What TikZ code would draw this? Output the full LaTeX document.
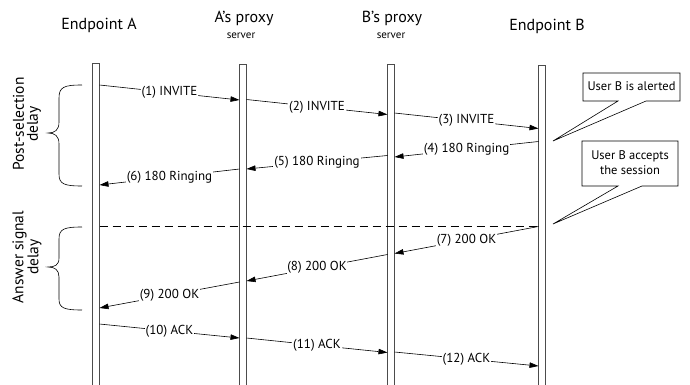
\documentclass[tikz,border=0pt]{standalone}
\usepackage{fontspec}
\setmainfont{PT Sans}
\usetikzlibrary{arrows.meta}
\begin{document}
\begin{tikzpicture}[x=1pt,y=-1pt,
  life/.style={draw=black!70, line width=0.7pt},
  msg/.style={draw=black, line width=0.6pt, -{Triangle[length=9pt,width=5.5pt]}},
  lbl/.style={fill=white, inner sep=0.8pt, font=\fontsize{13}{13}\selectfont},
  head/.style={font=\fontsize{16}{16}\selectfont, inner sep=0pt},
  subhead/.style={font=\fontsize{11}{11}\selectfont, inner sep=0pt},
  callout/.style={draw=black, line width=0.6pt, fill=white},
  calltext/.style={font=\fontsize{12.5}{15}\selectfont, align=center, inner sep=0pt},
  brace/.style={draw=black, line width=0.6pt},
  side/.style={font=\fontsize{15.5}{14}\selectfont, align=center, rotate=90, inner sep=0pt},
  sep/.style={draw=black, line width=0.6pt, dash pattern=on 8pt off 5pt}
]
\useasboundingbox (0,0) rectangle (690,385);

% headers
\node[head] (hA) at (99,25) {Endpoint A};
\node[head] (hAP) at (244,18) {A's proxy};
\node[subhead] (sAP) at (241,36) {server};
\node[head] (hBP) at (392,18) {B's proxy};
\node[subhead] (sBP) at (391,36) {server};
\node[head] (hB) at (547,26) {Endpoint B};

% lifelines
\draw[life] (92.5,63) rectangle (99.5,390);
\draw[life] (239.5,64) rectangle (246.5,390);
\draw[life] (387.5,64) rectangle (394.5,390);
\draw[life] (538.5,65) rectangle (545.5,390);

% message end points
\coordinate (m1s) at (99.5,85);   \coordinate (m1e) at (239.5,100);
\coordinate (m2s) at (246.5,99.5);\coordinate (m2e) at (387.5,114.5);
\coordinate (m3s) at (394.5,113); \coordinate (m3e) at (538.5,128.5);
\coordinate (m4s) at (538.5,141.5);\coordinate (m4e) at (394.5,157);
\coordinate (m5s) at (387.5,155.5);\coordinate (m5e) at (246.5,169);
\coordinate (m6s) at (239.5,169); \coordinate (m6e) at (99.5,185);
\coordinate (m7s) at (538.5,226.5);\coordinate (m7e) at (394.5,253.5);
\coordinate (m8s) at (387.5,254.5);\coordinate (m8e) at (246.5,281);
\coordinate (m9s) at (239.5,282); \coordinate (m9e) at (99.5,308);
\coordinate (m10s) at (99.5,324); \coordinate (m10e) at (239.5,338);
\coordinate (m11s) at (246.5,338);\coordinate (m11e) at (387.5,352.5);
\coordinate (m12s) at (394.5,352);\coordinate (m12e) at (538.5,366);

% dashed separator
\coordinate (dA) at (99.5,226);
\coordinate (dB) at (538.5,226);
\draw[sep] (dA) -- (dB);

% messages
\draw[msg] (m1s) -- node[lbl] {(1) INVITE} (m1e);
\draw[msg] (m2s) -- node[lbl] {(2) INVITE} (m2e);
\draw[msg] (m3s) -- node[lbl] {(3) INVITE} (m3e);
\draw[msg] (m4s) -- node[lbl] {(4) 180 Ringing} (m4e);
\draw[msg] (m5s) -- node[lbl] {(5) 180 Ringing} (m5e);
\draw[msg] (m6s) -- node[lbl] {(6) 180 Ringing} (m6e);
\draw[msg] (m7s) -- node[lbl] {(7) 200 OK} (m7e);
\draw[msg] (m8s) -- node[lbl] {(8) 200 OK} (m8e);
\draw[msg] (m9s) -- node[lbl] {(9) 200 OK} (m9e);
\draw[msg] (m10s) -- node[lbl] {(10) ACK} (m10e);
\draw[msg] (m11s) -- node[lbl] {(11) ACK} (m11e);
\draw[msg] (m12s) -- node[lbl] {(12) ACK} (m12e);

% callouts
\draw[callout] (583,73) -- (680,73) -- (680,101) -- (646,101) -- (553,141)
  -- (618,101) -- (583,101) -- cycle;
\node[calltext] (t1) at (631.5,86) {User B is alerted};
\draw[callout] (582,141) -- (678,141) -- (678,186) -- (642,186) -- (553,224)
  -- (618,186) -- (582,186) -- cycle;
\node[calltext] (t2) at (630,163) {User B accepts\\the session};

% braces
\draw[brace] (82,85) .. controls (64,85) and (59,87) .. (59,98) -- (59,122)
  .. controls (59,130) and (55,133) .. (48,133)
  .. controls (55,133) and (59,136) .. (59,144) -- (59,174)
  .. controls (59,184) and (64,186) .. (82,186);
\draw[brace] (82,227) .. controls (64,227) and (59,229) .. (59,239) -- (59,258)
  .. controls (59,265) and (55,267) .. (48,267)
  .. controls (55,267) and (59,270) .. (59,277) -- (59,299)
  .. controls (59,308) and (64,310) .. (82,310);
\node[side] (ps) at (27,124) {Post-selection\\delay};
\node[side] (as) at (27,257) {Answer signal\\delay};
\end{tikzpicture}
\end{document}
